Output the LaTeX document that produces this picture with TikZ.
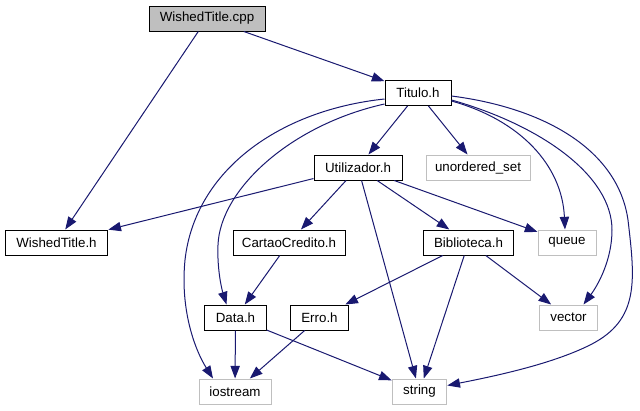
\documentclass[tikz,border=0pt]{standalone}
\usepackage{fontspec}
\setmainfont{Liberation Sans}
\usepackage{tikz}
\usetikzlibrary{arrows.meta,calc}
\usepackage{xcolor}
\definecolor{edgeblue}{HTML}{191970}
\definecolor{boxgray}{HTML}{BFBFBF}

\begin{document}
\begin{tikzpicture}[
    x=0.75pt, y=-0.75pt,
    file/.style={rectangle, draw=black, line width=0.75pt, minimum height=18.75pt,
                 inner sep=0pt, font=\fontsize{10}{12}\selectfont},
    hdr/.style={file},
    sys/.style={file, draw=boxgray},
    main/.style={file, fill=boxgray},
    inc/.style={-{Triangle[length=9.5pt, width=7pt]}, draw=edgeblue, fill=none,
                line width=0.75pt}
  ]
  \useasboundingbox (0,0) rectangle (640,411);

  % --- files of the project ---
  \node[main, minimum width=87pt]   (cpp)     at (207,18.5)  {WishedTitle.cpp};
  \node[hdr, minimum width=49.5pt]  (titulo)  at (418,93)    {Titulo.h};
  \node[hdr, minimum width=66pt]    (util)    at (358,167.5) {Utilizador.h};
  \node[hdr, minimum width=77pt]    (wished)  at (56.5,242.5){WishedTitle.h};
  \node[hdr, minimum width=84pt]    (cartao)  at (289,242.5) {CartaoCredito.h};
  \node[hdr, minimum width=68pt]    (biblio)  at (468.5,242.5) {Biblioteca.h};
  \node[hdr, minimum width=46pt]    (data)    at (235.5,317.5) {Data.h};
  \node[hdr, minimum width=43pt]    (erro)    at (319.5,317.5) {Erro.h};

  % --- system headers ---
  \node[sys, minimum width=78pt]    (uset)    at (478,167.5) {unordered\_set};
  \node[sys, minimum width=43.5pt]  (queue)   at (567,242.5) {queue};
  \node[sys, minimum width=44pt]    (vector)  at (568.5,317.5) {vector};
  \node[sys, minimum width=54pt]    (iostream) at (235,391.5) {iostream};
  \node[sys, minimum width=41pt]    (string)  at (419.5,391.5) {string};

  % straight includes
  \draw[inc] (cpp) -- (titulo);
  \draw[inc] (cpp) -- (wished);
  \draw[inc] (titulo) -- (util);
  \draw[inc] (titulo) -- (uset);
  \draw[inc] (util) -- (wished);
  \draw[inc] (util) -- (cartao);
  \draw[inc] (util) -- (string);
  \draw[inc] (util) -- (biblio);
  \draw[inc] (util) -- (queue);
  \draw[inc] (cartao) -- (data);
  \draw[inc] (biblio) -- (erro);
  \draw[inc] (biblio) -- (string);
  \draw[inc] (biblio) -- (vector);
  \draw[inc] (data) -- (iostream);
  \draw[inc] (data) -- (string);
  \draw[inc] (erro) -- (iostream);

  % curved includes from Titulo.h
  \draw[inc] ($(titulo.west)+(0,6)$) .. controls (280,110) and (195,170) .. (185,260)
    .. controls (180,310) and (195,350) .. ($(iostream.north)+(-22,0)$);
  \draw[inc] ($(titulo.west)+(0,11)$) .. controls (290,125) and (220,190) .. (218,245)
    .. controls (217,270) and (222,290) .. ($(data.north)+(-9,0)$);
  \draw[inc] ($(titulo.east)+(0,8)$) .. controls (520,120) and (562,165) .. ($(queue.north)+(-2,0)$);
  \draw[inc] ($(titulo.east)+(0,7)$) .. controls (540,125) and (612,175) .. (612,230)
    .. controls (612,260) and (598,285) .. ($(vector.north)+(15,0)$);
  \draw[inc] ($(titulo.east)+(0,3)$) .. controls (545,108) and (618,150) .. (628,220)
    .. controls (635,280) and (640,320) .. (590,345)
    .. controls (550,365) and (490,377) .. ($(string.east)+(0,-6)$);
\end{tikzpicture}
\end{document}
